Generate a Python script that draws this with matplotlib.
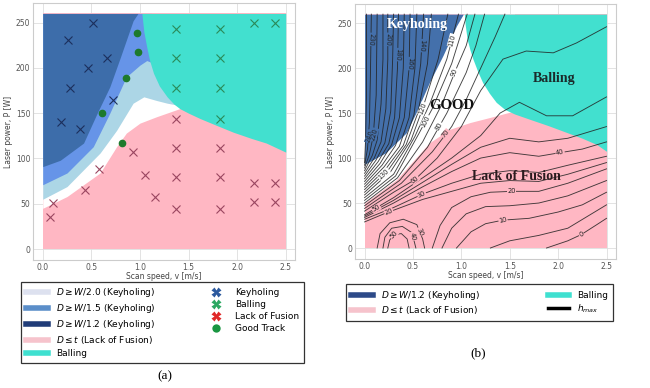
import matplotlib
matplotlib.use("Agg")
import matplotlib.pyplot as plt
from matplotlib.lines import Line2D

x_ticks = [0.0, 0.5, 1.0, 1.5, 2.0, 2.5]
y_ticks = [0, 50, 100, 150, 200, 250]

# ---- panel (a): region boundaries (v [m/s], P [W]) ----
a_lof_top_v = [0.0, 0.25, 0.59, 0.76, 0.86, 1.0, 1.17, 1.41, 1.5]
a_lof_top_p = [45, 58, 84, 113, 128, 139, 146, 155, 157]
a_w20_v = [0.0, 0.25, 0.59, 0.76, 0.93, 1.04, 1.17, 1.28, 1.38, 1.45]
a_w20_p = [55, 69, 106, 131, 161, 168, 164, 161, 159, 158]
a_w15_v = [0.0, 0.25, 0.52, 0.69, 0.86, 1.0, 1.07, 1.12]
a_w15_p = [71, 84, 113, 150, 190, 203, 208, 206]
a_w12_v = [0.0, 0.18, 0.42, 0.56, 0.69, 0.8, 0.93, 0.98]
a_w12_p = [91, 98, 117, 150, 179, 212, 252, 260]
a_ball_v = [1.02, 1.04, 1.07, 1.1, 1.14, 1.2, 1.28, 1.35, 1.41, 1.5, 1.62,
            1.8, 1.96, 2.15, 2.3, 2.5]
a_ball_p = [260, 240, 223, 208, 194, 180, 168, 160, 155, 150, 144,
            136, 129, 122, 117, 107]

# experiments
key_v = [0.26, 0.52, 0.47, 0.665, 0.28, 0.72, 0.19, 0.38]
key_p = [231, 250, 200, 211, 178, 164, 140, 132]
ball_v = [1.37, 1.37, 1.37, 1.82, 1.82, 1.82, 1.82, 2.17, 2.39]
ball_p = [243, 211, 178, 243, 211, 178, 144, 250, 250]
lof_v = [1.37, 1.37, 1.37, 1.37, 1.82, 1.82, 1.82, 2.17, 2.39, 2.17, 2.39,
         1.05, 1.15, 0.93, 0.58, 0.43, 0.11, 0.075]
lof_p = [144, 112, 79, 44, 112, 79, 44, 73, 73, 52, 52,
         82, 57, 107, 88, 65, 51, 35]
good_v = [0.97, 0.98, 0.86, 0.61, 0.82]
good_p = [238, 218, 189, 150, 117]

# ---- panel (b): region boundaries ----
b_lof_top_v = [0.0, 0.33, 0.67, 0.88, 1.09, 1.29, 1.5, 1.55]
b_lof_top_p = [50, 76, 117, 132, 139.5, 145, 151, 152]
b_key_v = [0.0, 0.22, 0.43, 0.53, 0.67, 0.81, 0.95, 1.02]
b_key_p = [93, 106, 128, 150, 184, 214, 247, 260]
b_ball_v = [1.03, 1.04, 1.06, 1.09, 1.12, 1.17, 1.22, 1.29, 1.36, 1.45, 1.55,
            1.71, 1.9, 2.05, 2.25, 2.4, 2.5]
b_ball_p = [260, 248, 232, 220, 210, 196, 184, 172, 162, 154, 149,
            143, 136, 130, 122, 115, 107.5]

# h_max contour lines
h240 = ([0.0, 0.01, 0.02, 0.02], [95, 120, 170, 260])
h230 = ([0.0, 0.03, 0.05, 0.06, 0.07], [92, 110, 140, 190, 260])
h220 = ([0.0, 0.05, 0.09, 0.12, 0.13], [89, 104, 125, 170, 260])
h210 = ([0.0, 0.08, 0.13, 0.17, 0.19, 0.19], [86, 103, 120, 160, 210, 260])
h200 = ([0.0, 0.1, 0.17, 0.22, 0.24, 0.24], [83, 100, 118, 155, 210, 260])
h190 = ([0.0, 0.12, 0.21, 0.27, 0.29, 0.30], [80, 98, 117, 152, 210, 260])
h180 = ([0.0, 0.14, 0.25, 0.31, 0.34, 0.35], [77, 96, 116, 145, 200, 260])
h170 = ([0.0, 0.16, 0.28, 0.36, 0.40, 0.41], [74, 94, 115, 145, 200, 260])
h160 = ([0.0, 0.18, 0.32, 0.41, 0.46, 0.47], [71, 92, 114, 145, 200, 260])
h150 = ([0.0, 0.2, 0.36, 0.46, 0.52, 0.54], [68, 90, 113, 145, 200, 260])
h140 = ([0.0, 0.22, 0.40, 0.51, 0.58, 0.61], [65, 88, 114, 148, 205, 260])
h130 = ([0.0, 0.24, 0.43, 0.55, 0.65, 0.69], [62, 86, 115, 150, 205, 260])
h120 = ([0.0, 0.27, 0.48, 0.6, 0.76, 0.86], [59, 85, 120, 155, 210, 260])
h110 = ([0.0, 0.3, 0.52, 0.68, 0.85, 0.97], [56, 82, 124, 162, 210, 260])
h100 = ([0.0, 0.32, 0.56, 0.7, 0.9, 1.06], [53, 80, 127, 155, 205, 260])
h90 = ([0.0, 0.34, 0.6, 0.8, 0.95, 1.05, 1.14], [50, 78, 118, 160, 200, 225, 260])
h80 = ([0.0, 0.36, 0.65, 0.85, 1.05, 1.15, 1.24], [47, 75, 112, 150, 195, 225, 260])
h70 = ([0.0, 0.38, 0.7, 0.9, 1.05, 1.2, 1.35, 1.45], [44, 72, 107, 135, 165, 200, 235, 260])
h60 = ([0.0, 0.3, 0.52, 0.75, 1.0, 1.2, 1.43, 1.67, 1.95, 2.19, 2.5],
       [41, 62, 76, 100, 135, 175, 210, 219, 217, 228, 246])
h50 = ([0.0, 0.3, 0.6, 0.9, 1.2, 1.4, 1.6, 1.88, 2.15, 2.5],
       [37, 56, 78, 100, 125, 150, 162, 147, 147, 168])
h45 = ([0.0, 0.3, 0.6, 0.9, 1.2, 1.5, 1.8, 2.1, 2.5],
       [35.5, 53, 73, 93, 112, 122, 118, 122, 135])
h40 = ([0.0, 0.3, 0.6, 0.9, 1.2, 1.5, 1.8, 2.02, 2.25, 2.5],
       [34, 50, 68, 85, 100, 106, 102, 106, 110, 118])
h30 = ([0.0, 0.3, 0.6, 0.9, 1.2, 1.5, 1.8, 2.1, 2.5],
       [32, 45, 60, 72, 82, 86, 84, 92, 102])
h25 = ([0.0, 0.2, 0.4, 0.6, 0.9, 1.2, 1.5, 1.8, 2.1, 2.5],
       [29, 38, 46, 54, 63, 72, 75, 74, 82, 95])
h20 = ([0.7, 0.78, 0.9, 1.1, 1.3, 1.52, 1.8, 2.1, 2.5],
       [0, 25, 45, 57, 62, 63, 63, 72, 88])
h15 = ([0.8, 0.9, 1.05, 1.25, 1.5, 1.8, 2.1, 2.5], [0, 22, 38, 46, 47, 50, 58, 75])
h10 = ([0.95, 1.1, 1.25, 1.43, 1.7, 2.0, 2.25, 2.5], [0, 18, 27, 31, 33, 40, 48, 62])
h05 = ([1.3, 1.5, 1.8, 2.1, 2.3, 2.5], [0, 8, 14, 22, 35, 48])
h00 = ([1.88, 2.1, 2.24, 2.4, 2.5], [0, 8, 15, 26, 33])
bump50 = ([0.24, 0.26, 0.31, 0.38, 0.44, 0.46], [0, 9, 15, 16, 10, 0])
bump40 = ([0.19, 0.21, 0.28, 0.39, 0.49, 0.53], [0, 12, 22, 24, 17, 0])
bump30 = ([0.13, 0.16, 0.26, 0.4, 0.54, 0.6, 0.62], [0, 16, 28, 32, 26, 10, 0])

h_lines = [h240, h230, h220, h210, h200, h190, h180, h170, h160, h150, h140,
           h130, h120, h110, h100, h90, h80, h70, h60, h50, h45, h40, h30,
           h25, h20, h15, h10, h05, h00, bump50, bump40, bump30]

# inline contour labels: text, v, P, region underneath
h_labels = [("230", 0.065, 232, "key"), ("200", 0.24, 232, "key"),
            ("180", 0.345, 215, "key"), ("160", 0.465, 205, "key"),
            ("140", 0.59, 225, "key"), ("240", 0.05, 124, "key"),
            ("220", 0.1, 126, "key"), ("130", 0.2, 82, "good"),
            ("120", 0.6, 155, "good"), ("100", 0.63, 141, "good"),
            ("110", 0.9, 231, "good"), ("90", 0.93, 195, "good"),
            ("80", 0.77, 135, "good"), ("70", 0.84, 127, "lof"),
            ("60", 0.52, 76, "lof"), ("30", 0.59, 59.5, "lof"),
            ("50", 0.12, 44, "lof"), ("20", 0.25, 40, "lof"),
            ("50", 0.3, 15, "lof"), ("40", 0.5, 13, "lof"),
            ("30", 0.57, 18, "lof"), ("40", 2.02, 106, "lof"),
            ("20", 1.52, 63, "lof"), ("10", 1.43, 31, "lof"),
            ("0", 2.24, 15, "lof")]
h_label_rot = [-95, -95, -95, -95, -95, 70, 75, 43, 70, 62, 75, 68, 60, 52,
               37, 25, 30, 20, 48, -76, -68, 9, 0, 12, 25]

c_pink = "#ffb7c3"
c_ball = "#42e0cf"
c_light = "#acd6e6"
c_mid = "#6694e8"
c_dark = "#3d6daa"
c_key_b = "#4470ab"

fig = plt.figure(figsize=(6.5, 3.88), dpi=100)
ax1 = fig.add_axes([0.0508, 0.330, 0.4037, 0.661])
ax2 = fig.add_axes([0.546, 0.333, 0.402, 0.656])

for ax in (ax1, ax2):
    ax.set_xlim(-0.1, 2.6)
    ax.set_ylim(-12, 271)
    ax.set_xticks(x_ticks)
    ax.set_xticklabels(["%.1f" % t for t in x_ticks])
    ax.set_yticks(y_ticks)
    ax.tick_params(length=0, labelsize=5.5, labelcolor="#555555", pad=2)
    ax.grid(True, color="#dedede", lw=0.6)
    ax.set_axisbelow(True)
    for s in ax.spines.values():
        s.set_color("#cccccc")
        s.set_linewidth(0.8)
    ax.set_xlabel("Scan speed, v [m/s]", fontsize=5.5, color="#444444", labelpad=0)
    ax.set_ylabel("Laser power, P [W]", fontsize=5.5, color="#444444", labelpad=2)

# panel (a)
ax1.fill_between([0, 2.5], 0, 260, color=c_pink, lw=0)
ax1.fill_between(a_lof_top_v, a_lof_top_p, 260, color="white", lw=0)
ax1.fill_between(a_w20_v, a_w20_p, 260, color=c_light, lw=0)
ax1.fill_between(a_w15_v, a_w15_p, 260, color=c_mid, lw=0)
ax1.fill_between(a_w12_v, a_w12_p, 260, color=c_dark, lw=0)
ax1.fill_between(a_ball_v, a_ball_p, 260, color=c_ball, lw=0)

ax1.plot(key_v, key_p, "x", color="#1c2f5c", ms=5.5, mew=0.8, zorder=4)
ax1.plot(ball_v, ball_p, "x", color="#2a8a58", ms=5.5, mew=0.8, zorder=4)
ax1.plot(lof_v, lof_p, "x", color="#9a4660", ms=5.5, mew=0.8, zorder=4)
ax1.plot(good_v, good_p, "o", color="#1d7a2c", ms=4.5, zorder=4)

# panel (b)
ax2.fill_between([0, 2.5], 0, 260, color=c_pink, lw=0)
ax2.fill_between(b_lof_top_v, b_lof_top_p, 260, color="white", lw=0)
ax2.fill_between(b_key_v, b_key_p, 260, color=c_key_b, lw=0)
ax2.fill_between(b_ball_v, b_ball_p, 260, color=c_ball, lw=0)

for v, p in h_lines:
    ax2.plot(v, p, color="#222222", lw=0.65, alpha=0.85, zorder=3)

bg = {"key": c_key_b, "good": "white", "lof": c_pink}
for (s, v, p, reg), r in zip(h_labels, h_label_rot):
    ax2.text(v, p, s, rotation=r, fontsize=4.8, ha="center", va="center",
             color="#222222", rotation_mode="anchor", zorder=4,
             bbox=dict(facecolor=bg[reg], edgecolor="none", pad=0.3))

serif = "Liberation Serif"
ax2.text(0.55, 249, "Keyholing", color="white", fontsize=10, fontweight="bold",
         family=serif, ha="center", va="center", zorder=5)
ax2.text(0.9, 158, "GOOD", color="#111111", fontsize=10.5, fontweight="bold",
         family=serif, ha="center", va="center", zorder=5)
ax2.text(1.96, 189, "Balling", color="#1b2b2b", fontsize=10, fontweight="bold",
         family=serif, ha="center", va="center", zorder=5)
ax2.text(1.57, 79, "Lack of Fusion", color="#2b1b1f", fontsize=10, fontweight="bold",
         family=serif, ha="center", va="center", zorder=5)

# legends
leg_a_handles = [
    Line2D([], [], color="#dde1ef", lw=4),
    Line2D([], [], color="#5b8ec9", lw=4),
    Line2D([], [], color="#203c78", lw=4),
    Line2D([], [], color="#f6c3cc", lw=4),
    Line2D([], [], color="#3fe0d0", lw=4),
    Line2D([], [], ls="none", marker="X", ms=7, color="#2c5a9e", mec="none"),
    Line2D([], [], ls="none", marker="X", ms=7, color="#2ca862", mec="none"),
    Line2D([], [], ls="none", marker="X", ms=7, color="#e02828", mec="none"),
    Line2D([], [], ls="none", marker="o", ms=6, color="#1a9641", mec="none"),
]
leg_a_labels = [r"$D \geq W/2.0$ (Keyholing)", r"$D \geq W/1.5$ (Keyholing)",
                r"$D \geq W/1.2$ (Keyholing)", r"$D \leq t$ (Lack of Fusion)",
                "Balling", "Keyholing", "Balling", "Lack of Fusion", "Good Track"]
leg_a = fig.legend(leg_a_handles, leg_a_labels, loc="upper left",
                   bbox_to_anchor=(0.026, 0.285), ncol=2, fontsize=6.5,
                   fancybox=False, edgecolor="#333333", framealpha=1,
                   handlelength=2.4, handletextpad=0.9, columnspacing=5.5,
                   labelspacing=0.33, borderpad=0.5)
leg_a.get_frame().set_linewidth(0.9)

leg_b_handles = [
    Line2D([], [], color="#2d4a88", lw=4),
    Line2D([], [], color="#f6c3cc", lw=4),
    Line2D([], [], color="#3fe0d0", lw=4),
    Line2D([], [], color="black", lw=2.5),
]
leg_b_labels = [r"$D \geq W/1.2$ (Keyholing)", r"$D \leq t$ (Lack of Fusion)",
                "Balling", r"$h_{max}$"]
leg_b = fig.legend(leg_b_handles, leg_b_labels, loc="upper left",
                   bbox_to_anchor=(0.526, 0.279), ncol=2, fontsize=6.5,
                   fancybox=False, edgecolor="#333333", framealpha=1,
                   handlelength=2.4, handletextpad=0.9, columnspacing=7.5,
                   labelspacing=0.3, borderpad=0.5)
leg_b.get_frame().set_linewidth(0.9)

fig.text(0.254, 0.022, "(a)", family=serif, fontsize=9.5, ha="center")
fig.text(0.735, 0.082, "(b)", family=serif, fontsize=9.5, ha="center")

fig.savefig("out.png", dpi=100)
